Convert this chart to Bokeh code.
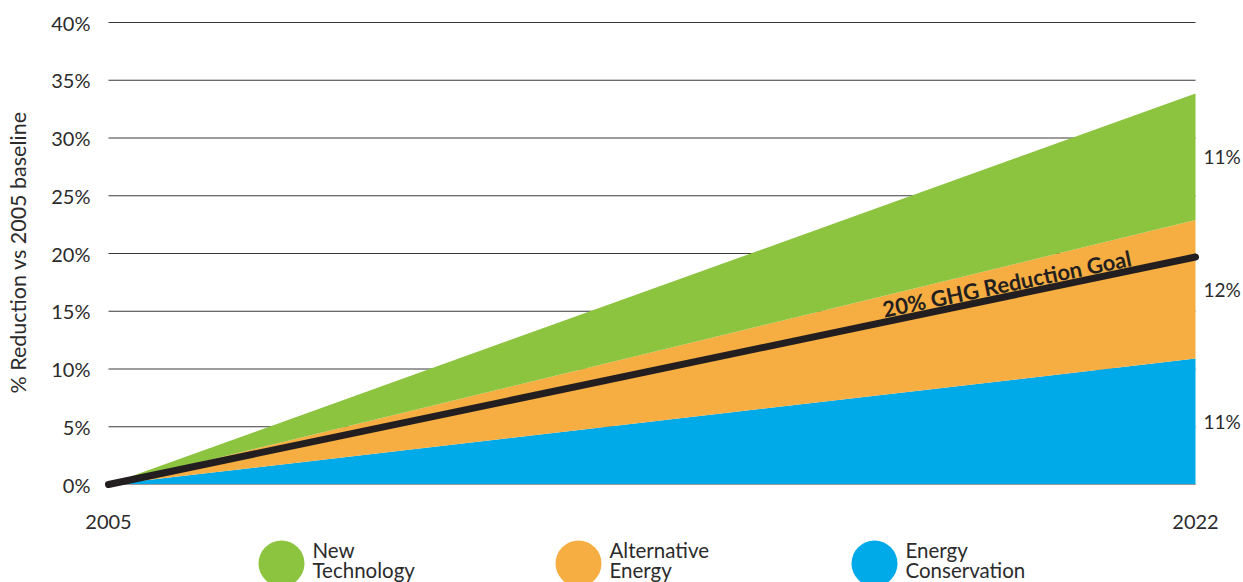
import numpy as np
from bokeh.plotting import figure
from bokeh.models import Range1d, FixedTicker, ColumnDataSource, LabelSet
from bokeh.embed import file_html
from bokeh.resources import INLINE
from bokeh.core.properties import value

# ---------------- data ----------------
years = [2005, 2022]
energy_conservation = [0.0, 10.9]
alternative_energy = [0.0, 12.0]
new_technology = [0.0, 10.95]
goal = [0.0, 19.7]
goal_label = "20% GHG Reduction Goal"
series_names = ["Energy Conservation", "Alternative Energy", "New Technology"]
legend_labels = ["New\nTechnology", "Alternative\nEnergy", "Energy\nConservation"]
y_ticks = [0, 5, 10, 15, 20, 25, 30, 35, 40]
x_ticks = [2005, 2022]
y_axis_title = "% Reduction vs 2005 baseline"

# ---------------- style ----------------
FONT = "Lato"
TXT = "#2b2b2b"
COLORS = {"Energy Conservation": "#00A9E8",
          "Alternative Energy": "#F6AD42",
          "New Technology": "#8CC43F"}

W = 1243
H_MAIN = 535
FRAME_L, FRAME_W = 100, 1143
FRAME_T, FRAME_H = 12, 480
PX_PER_YR = 1087 / 17
PX_PER_PCT = 462 / 40

x_start = years[0] - 8 / PX_PER_YR
x_end = x_start + FRAME_W / PX_PER_YR
y_start = -8 / PX_PER_PCT
y_end = y_start + FRAME_H / PX_PER_PCT

p = figure(width=W, height=H_MAIN, output_backend="svg", toolbar_location=None,
           x_range=Range1d(x_start, x_end), y_range=Range1d(y_start, y_end),
           min_border_left=FRAME_L, min_border_right=W - FRAME_L - FRAME_W,
           min_border_top=FRAME_T, min_border_bottom=H_MAIN - FRAME_T - FRAME_H)
p.outline_line_color = None
p.grid.visible = False
p.background_fill_color = "white"

# grid lines spanning only the data years
p.segment(x0=[years[0]] * len(y_ticks), x1=[years[-1]] * len(y_ticks),
          y0=y_ticks, y1=y_ticks,
          line_color=["#9a9a9a"] + ["#3a3a3a"] * (len(y_ticks) - 1), line_width=1)

src = ColumnDataSource(dict(year=years,
                            **{"Energy Conservation": energy_conservation,
                               "Alternative Energy": alternative_energy,
                               "New Technology": new_technology}))
p.varea_stack(stackers=series_names, x="year", source=src,
              color=[COLORS[n] for n in series_names])

# baseline
p.line(years, [0, 0], line_color="#9a9a9a", line_width=1)

# goal line
p.line(years, goal, line_color="#231f20", line_width=7, line_cap="round")

gx = 2019.05
gy = float(np.interp(gx, years, goal))
ang = np.arctan2((goal[1] - goal[0]) * PX_PER_PCT, (years[1] - years[0]) * PX_PER_YR)
p.text(x=[gx], y=[gy], text=[goal_label], angle=ang, y_offset=-13,
       text_font=value(FONT), text_font_style="bold", text_font_size="22px",
       text_color="#231f20", text_align="center", text_baseline="middle")

# right-side share labels
ends = [energy_conservation[-1], alternative_energy[-1], new_technology[-1]]
cum = np.cumsum([0] + ends)
mids = [(cum[i] + cum[i + 1]) / 2 for i in range(len(ends))]
lab_src = ColumnDataSource(dict(x=[years[-1]] * 3, y=mids,
                                t=[f"{round(e)}%" for e in ends]))
p.add_layout(LabelSet(x="x", y="y", text="t", source=lab_src, x_offset=8,
                      text_font=value(FONT), text_font_size="19px", text_color=TXT,
                      text_align="left", text_baseline="middle"))

# axes
p.yaxis.ticker = FixedTicker(ticks=y_ticks)
p.yaxis.major_label_overrides = {t: f"{t}%" for t in y_ticks}
p.xaxis.ticker = FixedTicker(ticks=x_ticks)
p.xaxis.major_label_overrides = {t: str(t) for t in x_ticks}
for ax in (p.xaxis, p.yaxis):
    ax.axis_line_color = None
    ax.major_tick_line_color = None
    ax.minor_tick_line_color = None
    ax.major_label_text_font = FONT
    ax.major_label_text_font_size = "20px"
    ax.major_label_text_color = TXT
p.yaxis.major_label_standoff = 4
p.xaxis.major_label_standoff = 16
p.yaxis.axis_label = y_axis_title
p.yaxis.axis_label_text_font = FONT
p.yaxis.axis_label_text_font_size = "21.5px"
p.yaxis.axis_label_text_font_style = "normal"
p.yaxis.axis_label_text_color = TXT
p.yaxis.axis_label_standoff = 17

# ---------------- legend strip ----------------
H_LEG = 47
leg = figure(width=W, height=H_LEG, output_backend="svg", toolbar_location=None,
             x_range=Range1d(0, W), y_range=Range1d(H_LEG, 0),
             min_border=0, min_border_left=0, min_border_right=0,
             min_border_top=0, min_border_bottom=0)
leg.axis.visible = False
leg.grid.visible = False
leg.outline_line_color = None

leg_order = ["New Technology", "Alternative Energy", "Energy Conservation"]
cx = [281, 578, 874]
leg.scatter(x=cx, y=[28] * 3, size=46, marker="circle",
            color=[COLORS[n] for n in leg_order], line_color=None)
first = [s.split("\n")[0] for s in legend_labels]
second = [s.split("\n")[1] for s in legend_labels]
tx = [c + 31 for c in cx]
leg.text(x=tx, y=[14] * 3, text=first, text_font=value(FONT), text_font_size="20.5px",
         text_color=TXT, text_align="left", text_baseline="middle")
leg.text(x=tx, y=[34] * 3, text=second, text_font=value(FONT), text_font_size="20.5px",
         text_color=TXT, text_align="left", text_baseline="middle")

open("out.html", "w").write(file_html([p, leg], INLINE))
